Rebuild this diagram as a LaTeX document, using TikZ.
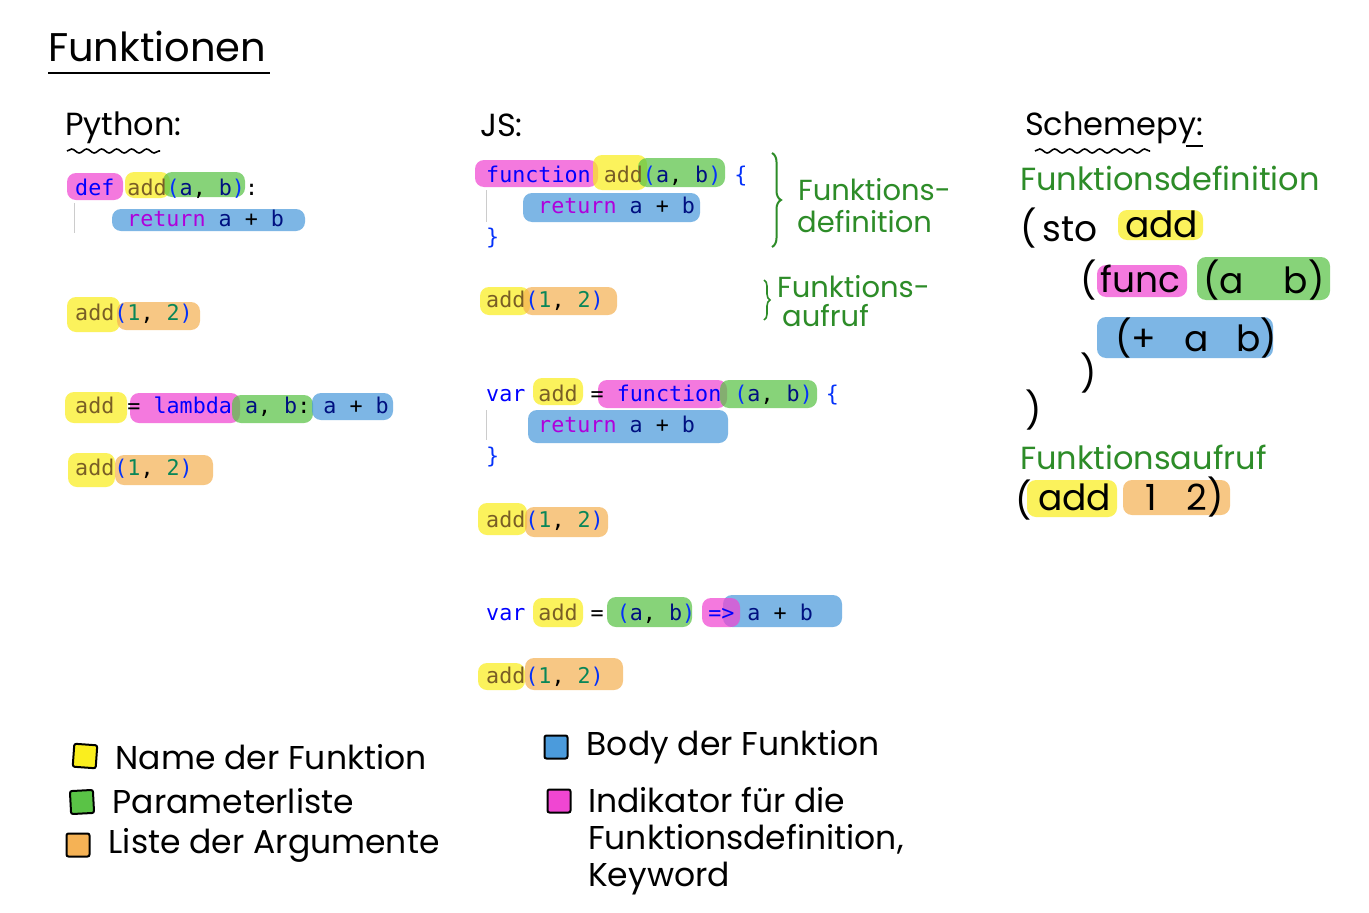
\documentclass[tikz,border=0pt]{standalone}
\usepackage{fontspec}
\setmonofont{DejaVu Sans Mono}
\newfontfamily\handfont{Poppins}
\usepackage{xcolor}
\usetikzlibrary{positioning,decorations.pathmorphing,decorations.pathreplacing}
\definecolor{hlyellow}{RGB}{250,238,30}
\definecolor{hlgreen}{RGB}{90,195,70}
\definecolor{hlorange}{RGB}{245,178,85}
\definecolor{hlblue}{RGB}{75,155,220}
\definecolor{hlmagenta}{RGB}{240,70,210}
\definecolor{notegreen}{RGB}{45,140,40}
\definecolor{kwblue}{RGB}{0,0,255}
\definecolor{fnbrown}{RGB}{121,94,38}
\definecolor{parnavy}{RGB}{0,16,128}
\definecolor{numgreen}{RGB}{9,134,88}
\definecolor{retpurple}{RGB}{175,0,219}
\definecolor{brblue}{RGB}{4,49,250}
\newcommand{\ckw}[1]{\textcolor{kwblue}{#1}}
\newcommand{\cfn}[1]{\textcolor{fnbrown}{#1}}
\newcommand{\cpar}[1]{\textcolor{parnavy}{#1}}
\newcommand{\cnum}[1]{\textcolor{numgreen}{#1}}
\newcommand{\cret}[1]{\textcolor{retpurple}{#1}}
\newcommand{\cbr}[1]{\textcolor{brblue}{#1}}

\begin{document}
\begin{tikzpicture}[
    x=1pt, y=-1pt,
    code/.style={font={\ttfamily\fontsize{21.7}{26}\selectfont}, anchor=base west, inner sep=0pt},
    hand/.style={font={\handfont\fontsize{32}{38}\selectfont}, anchor=west, inner sep=0pt},
    lisp/.style={hand, font={\handfont\fontsize{36}{40}\selectfont}},
    note/.style={hand, text=notegreen},
    smallnote/.style={note, font={\handfont\fontsize{29}{32}\selectfont}},
    legend/.style={font={\handfont\fontsize{33}{37}\selectfont}, inner sep=0pt, align=left},
    hl/.style={rounded corners=9pt, fill opacity=0.72},
    key/.style={draw, line width=2pt, minimum size=23pt, inner sep=0pt, rounded corners=2pt},
    guide/.style={draw=black!20, line width=0.8pt},
    wavy/.style={line width=1.6pt, decorate, decoration={snake, amplitude=2pt, segment length=15pt}},
    curly/.style={notegreen, line width=2pt, decorate, decoration={brace, amplitude=9pt}}
]
    \fill[white] (0,0) rectangle (1369,913);
    \useasboundingbox (0,0) rectangle (1369,913);

    % headings
    \node[hand, font={\handfont\fontsize{40}{44}\selectfont}] (title) at (48,46) {Funktionen};
    \draw[line width=2pt] (48,73) -- (270,73);
    \node[hand] (python) at (65,128) {Python:};
    \draw[wavy] (67,151) -- (160,151);
    \node[hand] (js) at (480,125) {JS:};
    \node[hand] (schemepy) at (1025,128) {Schemepy:};
    \draw[wavy] (1035,151) -- (1150,151);
    \draw[line width=1.6pt] (1186,146) -- (1203,146);

    % Python
    \fill[hl, hlmagenta] (67,173) rectangle (123,200);
    \fill[hl, hlyellow] (125,172) rectangle (170,198);
    \fill[hl, hlgreen] (163,172) rectangle (245,197);
    \fill[hl, hlblue] (112,209) rectangle (305,231);
    \node[code] (pydef) at (75,195) {\ckw{def} \cfn{add}\cbr{(}\cpar{a}, \cpar{b}\cbr{)}:};
    \node[code] (pyret) at (127,226) {\cret{return} \cpar{a} + \cpar{b}};
    \draw[guide] (74,203) -- (74,233);

    \fill[hl, hlyellow] (67,297) rectangle (120,332);
    \fill[hl, hlorange] (117,302) rectangle (200,330);
    \node[code] (pycallA) at (75,320) {\cfn{add}\cbr{(}\cnum{1}, \cnum{2}\cbr{)}};

    \fill[hl, hlyellow] (65,392) rectangle (127,423);
    \fill[hl, hlmagenta] (130,393) rectangle (240,423);
    \fill[hl, hlgreen] (232,395) rectangle (313,423);
    \fill[hl, hlblue] (312,393) rectangle (393,420);
    \node[code] (pylambda) at (75,413) {\cfn{add} = \ckw{lambda} \cpar{a}, \cpar{b}: \cpar{a} + \cpar{b}};

    \fill[hl, hlyellow] (68,453) rectangle (115,487);
    \fill[hl, hlorange] (115,455) rectangle (213,485);
    \node[code] (pycallB) at (75,475) {\cfn{add}\cbr{(}\cnum{1}, \cnum{2}\cbr{)}};

    % JS
    \fill[hl, hlmagenta] (475,160) rectangle (598,187);
    \fill[hl, hlyellow] (593,155) rectangle (647,190);
    \fill[hl, hlgreen] (638,158) rectangle (725,187);
    \fill[hl, hlblue] (523,193) rectangle (700,222);
    \node[code] (jsfunc) at (486,182) {\ckw{function} \cfn{add}\cbr{(}\cpar{a}, \cpar{b}\cbr{)} \cbr{\{}};
    \node[code] (jsret) at (538,213) {\cret{return} \cpar{a} + \cpar{b}};
    \node[code] (jsclose) at (486,244) {\cbr{\}}};
    \draw[guide] (486,190) -- (486,222);

    \fill[hl, hlyellow] (480,287) rectangle (530,315);
    \fill[hl, hlorange] (523,287) rectangle (617,315);
    \node[code] (jscallA) at (486,307) {\cfn{add}\cbr{(}\cnum{1}, \cnum{2}\cbr{)}};

    \draw[curly] (772,153) -- (772,247);
    \node[smallnote] (defA) at (798,190) {Funktions-};
    \node[smallnote] (defB) at (797,222) {definition};
    \draw[curly, line width=1.6pt, decoration={amplitude=6pt}] (764,280) -- (764,320);
    \node[smallnote] (callA) at (777,287) {Funktions-};
    \node[smallnote] (callB) at (782,316) {aufruf};

    \fill[hl, hlyellow] (533,378) rectangle (583,405);
    \fill[hl, hlmagenta] (598,380) rectangle (727,408);
    \fill[hl, hlgreen] (720,380) rectangle (817,408);
    \fill[hl, hlblue] (528,410) rectangle (728,443);
    \node[code] (jsvarfunc) at (486,401) {\ckw{var} \cfn{add} = \ckw{function} \cbr{(}\cpar{a}, \cpar{b}\cbr{)} \cbr{\{}};
    \node[code] (jsvarret) at (538,432) {\cret{return} \cpar{a} + \cpar{b}};
    \node[code] (jsvarclose) at (486,463) {\cbr{\}}};
    \draw[guide] (486,410) -- (486,440);

    \fill[hl, hlyellow] (478,503) rectangle (527,535);
    \fill[hl, hlorange] (525,507) rectangle (608,537);
    \node[code] (jscallB) at (486,527) {\cfn{add}\cbr{(}\cnum{1}, \cnum{2}\cbr{)}};

    \fill[hl, hlyellow] (533,598) rectangle (583,627);
    \fill[hl, hlgreen] (607,597) rectangle (692,627);
    \fill[hl, hlblue] (723,595) rectangle (842,627);
    \fill[hl, hlmagenta] (702,598) rectangle (740,627);
    \node[code] (jsarrow) at (486,620) {\ckw{var} \cfn{add} = \cbr{(}\cpar{a}, \cpar{b}\cbr{)} \ckw{=>} \cpar{a} + \cpar{b}};

    \fill[hl, hlyellow] (478,663) rectangle (525,690);
    \fill[hl, hlorange] (525,658) rectangle (623,690);
    \node[code] (jscallC) at (486,683) {\cfn{add}\cbr{(}\cnum{1}, \cnum{2}\cbr{)}};

    % Schemepy
    \node[note] (schdef) at (1020,178) {Funktionsdefinition};
    \node[lisp] (sto) at (1020,228) {(\,sto};
    \fill[hl, hlyellow] (1118,210) rectangle (1203,240);
    \node[lisp] (stoadd) at (1125,224) {add};
    \node[lisp] (funcopen) at (1080,280) {(};
    \fill[hl, hlmagenta] (1097,265) rectangle (1187,297);
    \node[lisp] (funckw) at (1100,279) {func};
    \fill[hl, hlgreen] (1197,257) rectangle (1330,300);
    \node[lisp] (funcpar) at (1203,280) {(a\hspace{40pt}b)};
    \fill[hl, hlblue] (1097,317) rectangle (1273,358);
    \node[lisp] (funcbody) at (1115,338) {(+\hspace{28pt}a\hspace{28pt}b)};
    \node[lisp] (funcclose) at (1080,373) {)};
    \node[lisp] (stoclose) at (1025,410) {)};
    \node[note] (schcall) at (1020,457) {Funktionsaufruf};
    \node[lisp] (callopen) at (1015,500) {(};
    \fill[hl, hlyellow] (1027,480) rectangle (1117,517);
    \node[lisp] (calladd) at (1038,497) {add};
    \fill[hl, hlorange] (1123,480) rectangle (1230,515);
    \node[lisp] (callargs) at (1145,497) {1\hspace{30pt}2)};

    % legend
    \node[key, fill=hlyellow, rotate=-4] (keyname) at (85,756) {};
    \node[legend, right=18pt of keyname] (legname) {Name der Funktion};
    \node[key, fill=hlgreen, rotate=3] (keypar) at (82,802) {};
    \node[legend, right=18pt of keypar] (legpar) {Parameterliste};
    \node[key, fill=hlorange] (keyarg) at (78,845) {};
    \node[legend, right=18pt of keyarg] (legarg) {Liste der Argumente};
    \node[key, fill=hlblue] (keybody) at (556,747) {};
    \node[legend, right=18pt of keybody] (legbody) {Body der Funktion};
    \node[key, fill=hlmagenta] (keykw) at (559,801) {};
    \node[legend, anchor=north west] (legkw) at (588,787) {Indikator für die\\Funktionsdefinition,\\Keyword};
\end{tikzpicture}
\end{document}
